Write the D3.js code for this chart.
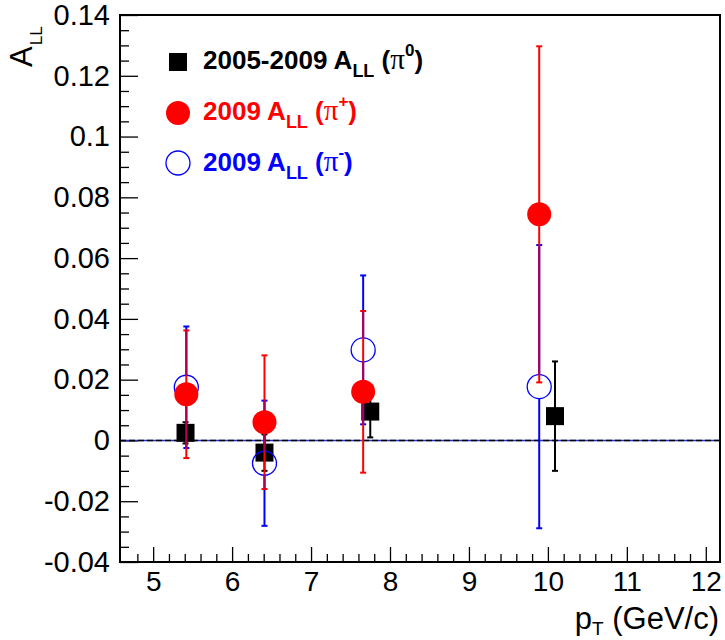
<!DOCTYPE html>
<html>
<head>
<meta charset="utf-8">
<script src="https://cdn.jsdelivr.net/npm/d3@7"></script>
<style>
  html, body { margin: 0; padding: 0; background: #fff; }
  svg { display: block; font-family: "Liberation Sans", Arial, Helvetica, sans-serif; }
</style>
</head>
<body>
<svg id="chart" width="725" height="640"></svg>
<script>
// Double-helicity asymmetry A_LL versus pT for neutral and charged pions
const ptPi0      = [5.41, 6.41, 7.75, 10.09];
const allPi0     = [0.0025, -0.004, 0.0095, 0.008];
const errPi0     = [0.0035, 0.006, 0.0085, 0.018];

const ptPiCharged = [5.42, 6.41, 7.66, 9.89];
const allPiPlus   = [0.0152, 0.006, 0.016, 0.0744];
const errPiPlus   = [0.021, 0.022, 0.0266, 0.0553];
const allPiMinus  = [0.0175, -0.0075, 0.0298, 0.0177];
const errPiMinus  = [0.020, 0.0206, 0.0245, 0.0466];

const xTickValues = [5, 6, 7, 8, 9, 10, 11, 12];
const xTickLabels = ["5", "6", "7", "8", "9", "10", "11", "12"];
const yTickValues = [-0.04, -0.02, 0, 0.02, 0.04, 0.06, 0.08, 0.10, 0.12, 0.14];
const yTickLabels = ["-0.04", "-0.02", "0", "0.02", "0.04", "0.06", "0.08", "0.1", "0.12", "0.14"];

const legendYears  = ["2005-2009 A", "2009 A", "2009 A"];
const legendCharge = ["0", "+", "-"];

const svg = d3.select("#chart");
const frame = { left: 120, right: 720, top: 15, bottom: 562 };

const x = d3.scaleLinear().domain([4.58, 12.18]).range([frame.left, frame.right]);
const y = d3.scaleLinear().domain([-0.04, 0.14]).range([frame.bottom, frame.top]);

// minor ticks
const xMinor = d3.range(4.8, 12.19, 0.2).filter(v => Math.abs(v - Math.round(v)) > 1e-6);
const yMinor = d3.range(-0.04, 0.1401, 0.005).filter(v => Math.abs(v / 0.02 - Math.round(v / 0.02)) > 1e-6);

svg.append("g")
  .attr("transform", `translate(${frame.left},0)`)
  .call(d3.axisLeft(y).tickValues(yMinor).tickSize(-9).tickFormat(""))
  .call(g => g.select(".domain").remove())
  .selectAll("line").attr("stroke", "#000").attr("stroke-width", 1.3);

svg.append("g")
  .attr("transform", `translate(0,${frame.bottom})`)
  .call(d3.axisBottom(x).tickValues(xMinor).tickSize(-8).tickFormat(""))
  .call(g => g.select(".domain").remove())
  .selectAll("line").attr("stroke", "#000").attr("stroke-width", 1.3);

// major ticks with labels
const yAxis = svg.append("g")
  .attr("transform", `translate(${frame.left},0)`)
  .call(d3.axisLeft(y).tickValues(yTickValues).tickSize(-18).tickPadding(10)
    .tickFormat((d, i) => yTickLabels[i]));
yAxis.select(".domain").remove();
yAxis.selectAll("line").attr("stroke", "#000").attr("stroke-width", 1.3);
yAxis.selectAll("text").attr("font-size", 29).attr("fill", "#000")
  .attr("font-family", "Liberation Sans, Arial, sans-serif");

const xAxis = svg.append("g")
  .attr("transform", `translate(0,${frame.bottom})`)
  .call(d3.axisBottom(x).tickValues(xTickValues).tickSize(-15).tickPadding(9)
    .tickFormat((d, i) => xTickLabels[i]));
xAxis.select(".domain").remove();
xAxis.selectAll("line").attr("stroke", "#000").attr("stroke-width", 1.3);
xAxis.selectAll("text").attr("font-size", 28).attr("fill", "#000")
  .attr("font-family", "Liberation Sans, Arial, sans-serif");

// frame box
svg.append("rect")
  .attr("x", frame.left).attr("y", frame.top)
  .attr("width", frame.right - frame.left).attr("height", frame.bottom - frame.top)
  .attr("fill", "none").attr("stroke", "#000").attr("stroke-width", 2);

// zero reference line
svg.append("line")
  .attr("x1", frame.left).attr("x2", frame.right)
  .attr("y1", y(0)).attr("y2", y(0))
  .attr("stroke", "#2233cc").attr("stroke-width", 1.4);
svg.append("line")
  .attr("x1", frame.left).attr("x2", frame.right)
  .attr("y1", y(0)).attr("y2", y(0))
  .attr("stroke", "#000").attr("stroke-width", 1.4).attr("stroke-dasharray", "6,3");

const capHalf = 3;

function errorBars(g, xs, vals, errs, color, gap) {
  xs.forEach((px, i) => {
    const cx = x(px), cy = y(vals[i]);
    const yt = y(vals[i] + errs[i]), yb = y(vals[i] - errs[i]);
    const grp = g.append("g").attr("stroke", color).attr("stroke-width", 2);
    if (gap > 0) {
      if (cy - gap > yt) grp.append("line").attr("x1", cx).attr("x2", cx).attr("y1", yt).attr("y2", cy - gap);
      if (cy + gap < yb) grp.append("line").attr("x1", cx).attr("x2", cx).attr("y1", cy + gap).attr("y2", yb);
    } else {
      grp.append("line").attr("x1", cx).attr("x2", cx).attr("y1", yt).attr("y2", yb);
    }
    [yt, yb].forEach(yy => grp.append("line")
      .attr("x1", cx - capHalf).attr("x2", cx + capHalf).attr("y1", yy).attr("y2", yy));
  });
}

const plot = svg.append("g");

// pi0: filled black squares
errorBars(plot, ptPi0, allPi0, errPi0, "#000", 0);
plot.selectAll("rect.pi0").data(ptPi0).join("rect").attr("class", "pi0")
  .attr("x", (d) => x(d) - 9).attr("y", (d, i) => y(allPi0[i]) - 9)
  .attr("width", 18).attr("height", 18).attr("fill", "#000");

// pi-: open blue circles
errorBars(plot, ptPiCharged, allPiMinus, errPiMinus, "#0000ff", 12);
plot.selectAll("circle.pim").data(ptPiCharged).join("circle").attr("class", "pim")
  .attr("cx", d => x(d)).attr("cy", (d, i) => y(allPiMinus[i])).attr("r", 12)
  .attr("fill", "none").attr("stroke", "#0000ff").attr("stroke-width", 1.3);

// pi+: red error bars, tinted where they run alongside the pi- bars
errorBars(plot, ptPiCharged, allPiPlus, errPiPlus, "#ff0000", 0);
ptPiCharged.forEach((px, i) => {
  const lo = Math.max(allPiPlus[i] - errPiPlus[i], allPiMinus[i] - errPiMinus[i]);
  const hi = Math.min(allPiPlus[i] + errPiPlus[i], allPiMinus[i] + errPiMinus[i]);
  const cm = y(allPiMinus[i]);
  const segs = [[y(hi), Math.min(y(lo), cm - 12)], [Math.max(y(hi), cm + 12), y(lo)]];
  segs.forEach(([a, b]) => {
    if (b > a) plot.append("line").attr("x1", x(px)).attr("x2", x(px)).attr("y1", a).attr("y2", b)
      .attr("stroke", "#0000ff").attr("stroke-width", 2).attr("opacity", 0.3);
  });
});
plot.selectAll("circle.pip").data(ptPiCharged).join("circle").attr("class", "pip")
  .attr("cx", d => x(d)).attr("cy", (d, i) => y(allPiPlus[i])).attr("r", 12)
  .attr("fill", "#ff0000");

// legend
const legendColors = ["#000", "#ff0000", "#0000ff"];
const legendBaselines = [69, 120, 171];
const legend = svg.append("g");
legend.append("rect").attr("x", 169).attr("y", legendBaselines[0] - 16).attr("width", 18).attr("height", 18).attr("fill", "#000");
legend.append("circle").attr("cx", 178).attr("cy", legendBaselines[1] - 7).attr("r", 12).attr("fill", "#ff0000");
legend.append("circle").attr("cx", 178).attr("cy", legendBaselines[2] - 8).attr("r", 12)
  .attr("fill", "none").attr("stroke", "#0000ff").attr("stroke-width", 1.3);

legendYears.forEach((label, i) => {
  const t = legend.append("text").attr("x", 203).attr("y", legendBaselines[i])
    .attr("fill", legendColors[i]).attr("font-size", 26).attr("font-weight", "bold");
  t.append("tspan").text(label);
  t.append("tspan").attr("font-size", 18).attr("dy", 8).text("LL");
  t.append("tspan").attr("dy", -8).text(" (");
  t.append("tspan").attr("font-family", "Liberation Serif, DejaVu Serif, serif")
    .attr("font-weight", "normal").attr("font-size", 29).text("π");
  t.append("tspan").attr("font-size", 17).attr("dy", -13).text(legendCharge[i]);
  t.append("tspan").attr("dy", 13).text(")");
});

// axis titles
const yTitle = svg.append("text")
  .attr("transform", "translate(32,67) rotate(-90)")
  .attr("font-size", 31).attr("fill", "#000");
yTitle.append("tspan").text("A");
yTitle.append("tspan").attr("font-size", 17).attr("dy", 10).attr("dx", 1).text("LL");

const xTitle = svg.append("text")
  .attr("x", 719).attr("y", 629).attr("text-anchor", "end")
  .attr("font-size", 31).attr("fill", "#000");
xTitle.append("tspan").text("p");
xTitle.append("tspan").attr("font-size", 19).attr("dy", 6).text("T");
xTitle.append("tspan").attr("dy", -6).text(" (GeV/c)");
</script>
</body>
</html>
